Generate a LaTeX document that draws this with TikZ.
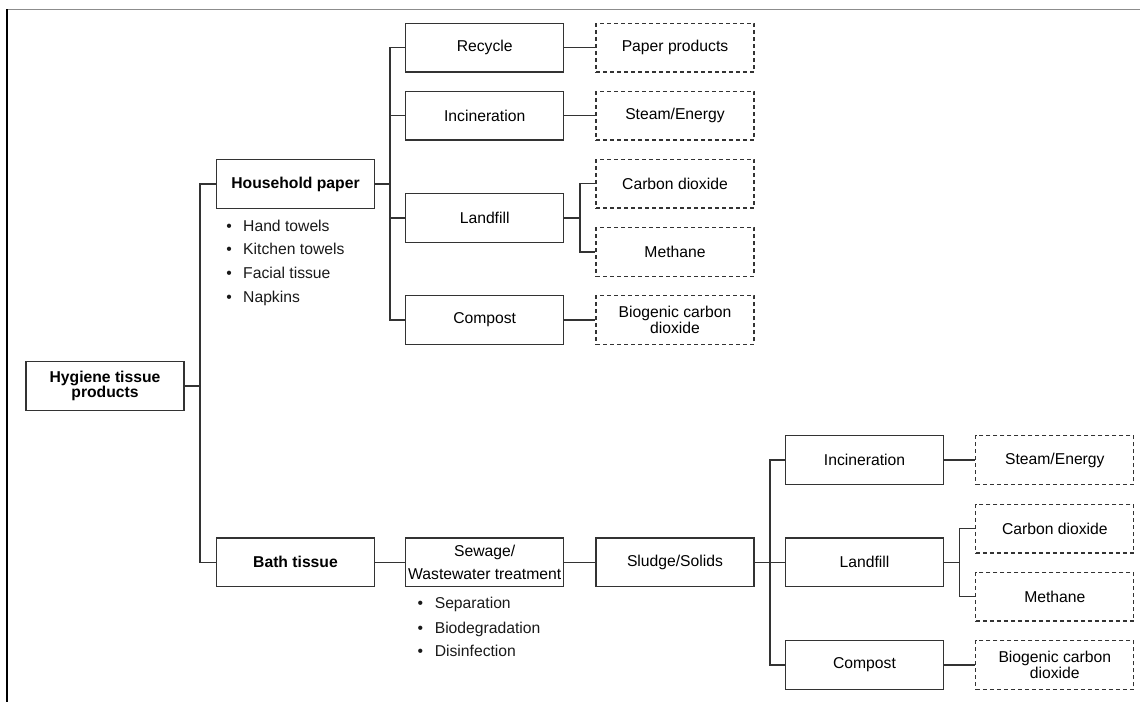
\documentclass[tikz,border=0pt]{standalone}
\usepackage{fontspec}
\setmainfont{Liberation Sans}
\begin{document}
\begin{tikzpicture}[x=1pt,y=-1pt,
  every node/.style={font=\fontsize{15.7}{15.6}\selectfont},
  box/.style={draw=black!80, line width=1.25pt, minimum width=158pt, minimum height=48.6pt, inner sep=1pt, align=center},
  dbox/.style={box, dash pattern=on 4pt off 3pt},
  conn/.style={draw=black!80, line width=1.25pt},
  bul/.style={anchor=base west, inner sep=0pt, text=black!90}]
\useasboundingbox (0,0) rectangle (1140,702);
% frame lines
\draw[black!45, line width=1.1pt] (7,9.3) -- (1140,9.3);
\draw[black, line width=2pt] (7.3,9.3) -- (7.3,702);

% root and level 1
\node[box] (hyg) at (105,386) {\bfseries Hygiene tissue\\\bfseries products};
\node[box] (hp) at (295.5,184) {\bfseries Household paper};
\node[box] (bt) at (295.5,562.3) {\bfseries Bath tissue};

% household paper list
\node[bul] (hp1) at (226.2,231) {\textbullet\hspace{11.3pt}Hand towels};
\node[bul] (hp2) at (226.2,254.7) {\textbullet\hspace{11.3pt}Kitchen towels};
\node[bul] (hp3) at (226.2,278.4) {\textbullet\hspace{11.3pt}Facial tissue};
\node[bul] (hp4) at (226.2,302.1) {\textbullet\hspace{11.3pt}Napkins};

% top branch
\node[box] (rec) at (484.7,47.7) {Recycle};
\node[box] (inc) at (484.7,115.7) {Incineration};
\node[box] (lan) at (484.7,218) {Landfill};
\node[box] (com) at (484.7,320) {Compost};
\node[dbox] (pp) at (675,47.7) {Paper products};
\node[dbox] (se) at (675,115.7) {Steam/Energy};
\node[dbox] (cd) at (675,183.7) {Carbon dioxide};
\node[dbox] (me) at (675,252) {Methane};
\node[dbox] (bg) at (675,320) {Biogenic carbon\\dioxide};

% bottom branch
\node[box, font=\fontsize{15.7}{23}\selectfont] (sew) at (484.7,562.3) {Sewage/\\Wastewater treatment};
\node[box] (slu) at (675,562.3) {Sludge/Solids};
\node[bul] (sw1) at (417.3,608.6) {\textbullet\hspace{11.8pt}Separation};
\node[bul] (sw2) at (417.3,633.2) {\textbullet\hspace{11.8pt}Biodegradation};
\node[bul] (sw3) at (417.3,656.8) {\textbullet\hspace{11.8pt}Disinfection};

\node[box] (inc2) at (864.5,460) {Incineration};
\node[box] (lan2) at (864.5,562.3) {Landfill};
\node[box] (com2) at (864.5,665) {Compost};
\node[dbox] (se2) at (1054.8,460) {Steam/Energy};
\node[dbox] (cd2) at (1054.8,528.8) {Carbon dioxide};
\node[dbox] (me2) at (1054.8,596.7) {Methane};
\node[dbox] (bg2) at (1054.8,665) {Biogenic carbon\\dioxide};

% junction coordinates
\coordinate (t0) at (200,386);
\coordinate (t1) at (390,184);
\coordinate (t2) at (580,218);
\coordinate (t3) at (770,562.3);
\coordinate (t4) at (959.3,562.3);

% connectors
\draw[conn] (hyg.east) -- (t0);
\draw[conn] (hp.west) -| (t0) |- (bt.west);

\draw[conn] (hp.east) -- (t1);
\draw[conn] (rec.west) -| (t1) |- (com.west);
\draw[conn] (inc.west) -- (inc.west -| t1);
\draw[conn] (lan.west) -- (lan.west -| t1);
\draw[conn] (rec.east) -- (pp.west);
\draw[conn] (inc.east) -- (se.west);
\draw[conn] (com.east) -- (bg.west);
\draw[conn] (lan.east) -- (t2);
\draw[conn] (cd.west) -| (t2) |- (me.west);

\draw[conn] (bt.east) -- (sew.west);
\draw[conn] (sew.east) -- (slu.west);
\draw[conn] (slu.east) -- (t3);
\draw[conn] (inc2.west) -| (t3) |- (com2.west);
\draw[conn] (lan2.west) -- (t3);
\draw[conn] (inc2.east) -- (se2.west);
\draw[conn] (com2.east) -- (bg2.west);
\draw[conn] (lan2.east) -- (t4);
\draw[conn] (cd2.west) -| (t4) |- (me2.west);
\end{tikzpicture}
\end{document}
